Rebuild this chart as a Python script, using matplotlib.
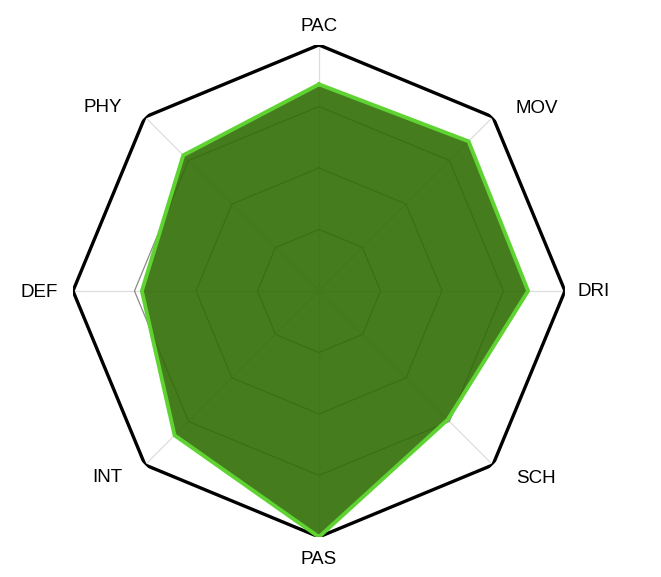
import numpy as np
import matplotlib
matplotlib.use('Agg')
import matplotlib.pyplot as plt

# Radar chart of player attributes
labels = ['PAC', 'MOV', 'DRI', 'SCH', 'PAS', 'INT', 'DEF', 'PHY']
values = [84, 86, 85, 74, 100, 83, 72, 78]
rings = [25, 50, 75]

plt.rcParams['font.family'] = ['Liberation Sans', 'DejaVu Sans']

n = len(labels)
angles = np.linspace(0, 2 * np.pi, n, endpoint=False)
ang_c = np.append(angles, angles[0])

fig = plt.figure(figsize=(6.61, 5.77), dpi=100)
ax = fig.add_axes([0.1104, 0.0694, 0.7443, 0.8527], projection='polar')
ax.set_theta_offset(np.pi / 2)
ax.set_theta_direction(-1)
ax.set_ylim(0, 100)
ax.axis('off')

# spokes
for a in angles:
    ax.plot([a, a], [0, 100], color='#dddddd', lw=0.9, zorder=1)

# inner rings
for r in rings:
    ax.plot(ang_c, [r] * (n + 1), color='#8a8a8a', lw=0.9, zorder=1)

# outer frame
ax.plot(ang_c, [100] * (n + 1), color='black', lw=2.4, zorder=2, solid_joinstyle='miter')

# data
vals = np.append(values, values[0])
ax.fill(ang_c, vals, color=(48/255, 110/255, 5/255), alpha=0.9, zorder=3, lw=0)
ax.plot(ang_c, vals, color='#5fd332', lw=2.8, zorder=4, solid_joinstyle='miter')

# labels (offset from the outer vertex, in pixels)
offs = {
    'PAC': (0, 18, 'center'), 'MOV': (23, 9, 'left'), 'DRI': (13, -1, 'left'),
    'SCH': (23, -14, 'left'), 'PAS': (0, -23, 'center'), 'INT': (-23, -13, 'right'),
    'DEF': (-15, -2, 'right'), 'PHY': (-23, 10, 'right'),
}
for a, lab in zip(angles, labels):
    dx, dy, ha = offs[lab]
    ax.annotate(lab, xy=(a, 100), xytext=(dx, dy), textcoords='offset pixels',
                ha=ha, va='center', fontsize=13.5, color='black')

fig.savefig('out.png', dpi=100)
